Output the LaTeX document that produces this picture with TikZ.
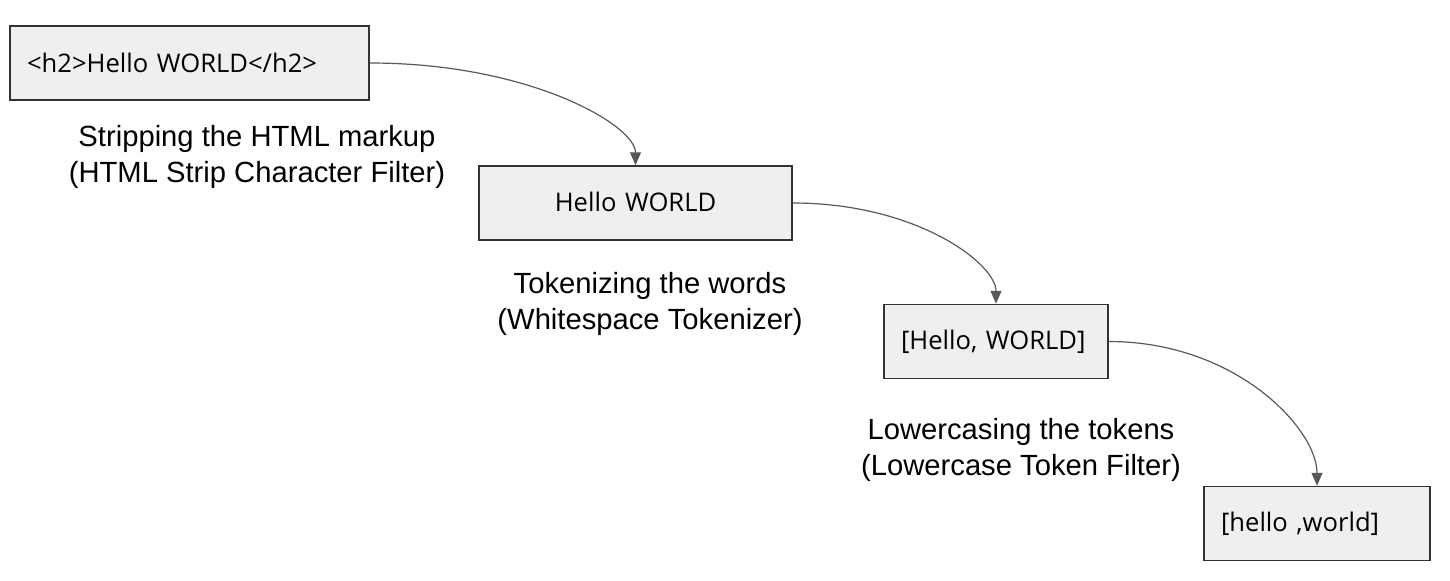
\documentclass[tikz,border=0pt]{standalone}
\usepackage{fontspec}
\setmainfont{Liberation Sans}
\newfontfamily\boxfont{Open Sans}
\usetikzlibrary{arrows.meta}
\definecolor{boxfill}{RGB}{239,239,239}
\definecolor{boxline}{RGB}{51,51,51}
\definecolor{arrowgray}{RGB}{89,89,89}

\begin{document}
\begin{tikzpicture}[x=0.5pt,y=-0.5pt,
    stage/.style={draw=boxline, line width=0.75pt, fill=boxfill,
        minimum height=37pt, inner xsep=8.5pt, inner ysep=0pt,
        font=\boxfont\fontsize{12.8}{15}\selectfont},
    caption/.style={align=center, inner sep=0pt,
        font=\fontsize{14.6}{18}\selectfont},
    flow/.style={draw=arrowgray, line width=0.6pt,
        -{Triangle[width=5.5pt,length=6.5pt]}}]
    % page frame
    \useasboundingbox (0,0) rectangle (1450,580);

    % the text at each stage
    \node[stage, text width=162.5pt, align=left] (html) at (189.5,63) {<h2>Hello WORLD</h2>};
    \node[stage, text width=139.5pt, align=center] (plain) at (635.5,203) {\raisebox{1pt}{Hello WORLD}};
    \node[stage, text width=95pt, align=left] (tokens) at (996,341.5) {[Hello, WORLD]};
    \node[stage, text width=96pt, align=left] (lower) at (1317,523.5) {[hello ,world]};

    % what happens between the stages
    \node[caption] (strip) at (257,157) {Stripping the HTML markup\\(HTML Strip Character Filter)};
    \node[caption] (tokenize) at (650,304) {Tokenizing the words\\(Whitespace Tokenizer)};
    \node[caption] (lowercase) at (1021,450) {Lowercasing the tokens\\(Lowercase Token Filter)};

    % connectors
    \foreach \from/\to/\dx/\dy in {html/plain/160/40, plain/tokens/124/40, tokens/lower/127/57}
        \draw[flow] (\from.east) .. controls +(\dx,0) and +(0,-\dy) .. (\to.north);
\end{tikzpicture}
\end{document}
